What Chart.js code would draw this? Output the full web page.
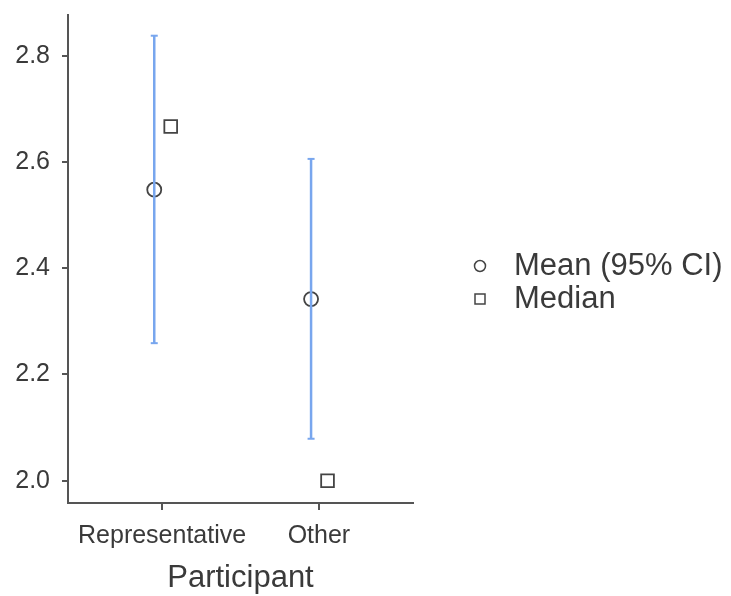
<!DOCTYPE html>
<html>
<head>
<meta charset="utf-8">
<script src="https://cdn.jsdelivr.net/npm/chart.js@4/dist/chart.umd.min.js"></script>
<style>
  html, body { margin: 0; padding: 0; background: #ffffff; }
  #wrap { width: 731px; height: 596px; }
</style>
</head>
<body>
<div id="wrap"><canvas id="c" width="731" height="596"></canvas></div>
<script>
// Participant groups and their summary statistics
const categories = ['Representative', 'Other'];
const meanValues = [2.548, 2.342];
const ciLower = [2.259, 2.079];
const ciUpper = [2.838, 2.606];
const medianValues = [2.667, 2.0];
const yTickValues = [2.0, 2.2, 2.4, 2.6, 2.8];

// Horizontal dodge of the two statistics around each group position
const MEAN_SHIFT = -0.05;
const MEDIAN_SHIFT = 0.055;

const AXIS_COLOR = '#555555';
const TEXT_COLOR = '#3a3a3a';
const CI_COLOR = '#78a6ee';
const FONT = '"Liberation Sans", Arial, sans-serif';

// One vertical interval per group, with small caps at both ends
const ciDatasets = categories.map((name, i) => ({
  type: 'line',
  label: 'CI ' + name,
  data: [
    { x: i + MEAN_SHIFT, y: ciLower[i] },
    { x: i + MEAN_SHIFT, y: ciUpper[i] }
  ],
  borderColor: CI_COLOR,
  borderWidth: 2.5,
  pointStyle: 'line',
  pointRadius: 3.5,
  pointBorderColor: CI_COLOR,
  pointBorderWidth: 2,
  fill: false,
  tension: 0
}));

const meanDataset = {
  type: 'scatter',
  label: 'Mean (95% CI)',
  legendStyle: 'circle',
  data: meanValues.map((v, i) => ({ x: i + MEAN_SHIFT, y: v })),
  pointStyle: 'circle',
  pointRadius: 7,
  pointBackgroundColor: '#ffffff',
  pointBorderColor: '#444444',
  pointBorderWidth: 1.8
};

const medianDataset = {
  type: 'scatter',
  label: 'Median',
  legendStyle: 'rect',
  data: medianValues.map((v, i) => ({ x: i + MEDIAN_SHIFT, y: v })),
  pointStyle: 'rect',
  pointRadius: 9,
  pointBackgroundColor: '#ffffff',
  pointBorderColor: '#444444',
  pointBorderWidth: 1.8
};

// Legend to the right of the plot, drawn from the marker datasets
const sideLegend = {
  id: 'sideLegend',
  afterDraw(chart) {
    const { ctx, chartArea } = chart;
    const items = chart.data.datasets.filter(d => d.legendStyle);
    const mid = (chartArea.top + chartArea.bottom) / 2;
    const markX = chartArea.right + 67;
    const textX = chartArea.right + 101;
    ctx.save();
    items.forEach((d, k) => {
      const y = mid + 7 + k * 33;
      ctx.beginPath();
      ctx.lineWidth = 1.5;
      ctx.strokeStyle = '#444444';
      ctx.fillStyle = '#ffffff';
      if (d.legendStyle === 'circle') {
        ctx.arc(markX, y, 5.5, 0, Math.PI * 2);
      } else {
        ctx.rect(markX - 5, y - 5, 10, 10);
      }
      ctx.fill();
      ctx.stroke();
      ctx.fillStyle = TEXT_COLOR;
      ctx.font = '31px ' + FONT;
      ctx.textAlign = 'left';
      ctx.textBaseline = 'middle';
      ctx.fillText(d.label, textX, y);
    });
    ctx.restore();
  }
};

new Chart(document.getElementById('c'), {
  data: { datasets: [...ciDatasets, meanDataset, medianDataset] },
  plugins: [sideLegend],
  options: {
    responsive: false,
    animation: false,
    layout: { padding: { left: 0, right: 318, top: 15, bottom: 0 } },
    plugins: {
      legend: { display: false },
      tooltip: { enabled: false }
    },
    scales: {
      x: {
        type: 'linear',
        min: -0.6,
        max: 1.6,
        afterBuildTicks(scale) {
          scale.ticks = categories.map((_, i) => ({ value: i }));
        },
        afterFit(scale) { scale.height = 93; },
        ticks: {
          callback: (v) => categories[v] ?? '',
          color: TEXT_COLOR,
          font: { family: FONT, size: 25 },
          padding: 11,
          maxRotation: 0,
          autoSkip: false
        },
        grid: {
          drawOnChartArea: false,
          drawTicks: true,
          tickLength: 7,
          color: AXIS_COLOR,
          lineWidth: 2
        },
        border: { color: AXIS_COLOR, width: 2 },
        title: {
          display: true,
          text: 'Participant',
          color: TEXT_COLOR,
          font: { family: FONT, size: 31, lineHeight: 1.1 },
          padding: { top: 0, bottom: 0 }
        }
      },
      y: {
        type: 'linear',
        min: 1.958,
        max: 2.877,
        afterBuildTicks(scale) {
          scale.ticks = yTickValues.map(v => ({ value: v }));
        },
        afterFit(scale) {
          scale.width = 68;
          // the end labels sit well inside the range, so no extra room is needed
          scale.paddingTop = 0;
          scale.paddingBottom = 0;
        },
        ticks: {
          callback: (v) => Number(v).toFixed(1),
          color: TEXT_COLOR,
          font: { family: FONT, size: 25 },
          padding: 12
        },
        grid: {
          drawOnChartArea: false,
          drawTicks: true,
          tickLength: 6,
          color: AXIS_COLOR,
          lineWidth: 2
        },
        border: { color: AXIS_COLOR, width: 2 }
      }
    }
  }
});
</script>
</body>
</html>
